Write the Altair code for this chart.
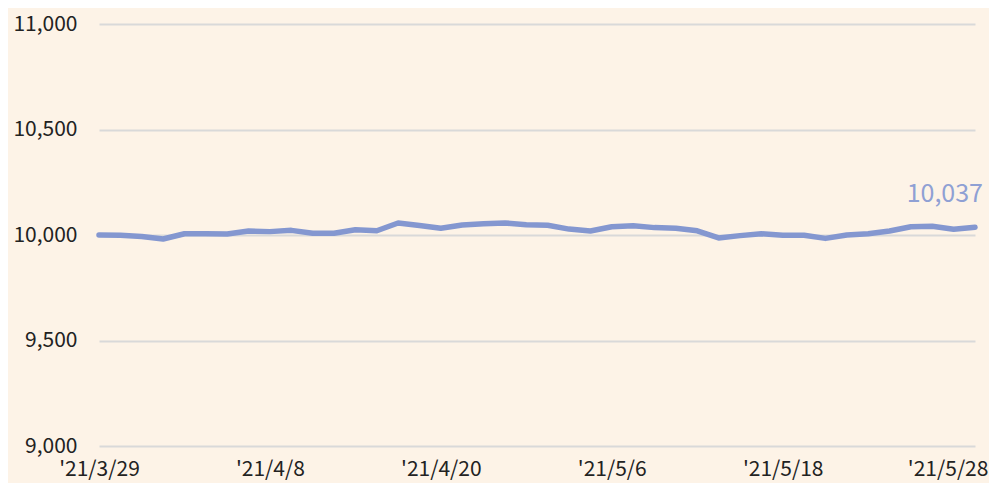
import altair as alt
import pandas as pd

dates = [
    "'21/3/29", "'21/3/30", "'21/3/31", "'21/4/1", "'21/4/2",
    "'21/4/5", "'21/4/6", "'21/4/7", "'21/4/8", "'21/4/9",
    "'21/4/12", "'21/4/13", "'21/4/14", "'21/4/15", "'21/4/16",
    "'21/4/19", "'21/4/20", "'21/4/21", "'21/4/22", "'21/4/23",
    "'21/4/26", "'21/4/27", "'21/4/28", "'21/4/30", "'21/5/6",
    "'21/5/7", "'21/5/10", "'21/5/11", "'21/5/12", "'21/5/13",
    "'21/5/14", "'21/5/17", "'21/5/18", "'21/5/19", "'21/5/20",
    "'21/5/21", "'21/5/24", "'21/5/25", "'21/5/26", "'21/5/27",
    "'21/5/28", "'21/5/31",
]
values = [
    10000, 9999, 9993, 9981, 10006, 10006, 10005, 10019, 10016, 10022,
    10008, 10008, 10025, 10020, 10057, 10045, 10032, 10047, 10053, 10057,
    10049, 10046, 10028, 10019, 10039, 10044, 10035, 10032, 10020, 9986,
    9997, 10006, 9999, 9999, 9984, 10000, 10006, 10019, 10039, 10041,
    10027, 10037,
]
tick_labels = ["'21/3/29", "'21/4/8", "'21/4/20", "'21/5/6", "'21/5/18", "'21/5/28"]
y_ticks = [9000, 9500, 10000, 10500, 11000]

df = pd.DataFrame({"date": dates, "value": values})
last = df.tail(1).copy()
last["label"] = [f"{v:,}" for v in last["value"]]

FONT = "Noto Sans CJK JP"
LINE_COLOR = "#8497d0"
BG = "#fdf3e7"

x = alt.X(
    "date:N",
    sort=None,
    scale=alt.Scale(type="point", padding=0),
    axis=alt.Axis(
        values=tick_labels, labelAngle=0, domain=False, ticks=False, grid=False,
        title=None, labelFont=FONT, labelFontSize=21, labelColor="#222222",
        labelPadding=12, labelOverlap=False,
        labelOffset=alt.ExprRef("datum.label === \"'21/5/28\" ? -6 : 0"),
    ),
)
y = alt.Y(
    "value:Q",
    scale=alt.Scale(domain=[9000, 11000], nice=False, zero=False),
    axis=alt.Axis(
        values=y_ticks, labelExpr="format(datum.value, ',')", domain=False,
        ticks=False, title=None,
        labelFont=FONT, labelFontSize=21, labelColor="#222222", labelPadding=22,
        gridColor="#d9d9d9", gridWidth=2,
    ),
)

line = alt.Chart(df).mark_line(
    color=LINE_COLOR, strokeWidth=5.5, strokeCap="round", strokeJoin="round"
).encode(x=x, y=y)

label = alt.Chart(last).mark_text(
    align="right", baseline="alphabetic", dx=8, dy=-25,
    font=FONT, fontSize=25, color="#8fa0d4",
).encode(x=x, y=y, text="label:N")

chart = (
    alt.layer(line, label)
    .properties(
        width=876, height=422,
        autosize=alt.AutoSizeParams(type="none"),
        padding={"left": 91, "top": 16, "right": 14, "bottom": 37},
        background=BG,
    )
    .configure_view(stroke=None)
)

chart.save("out.html", embed_options={"renderer": "svg", "actions": False})
